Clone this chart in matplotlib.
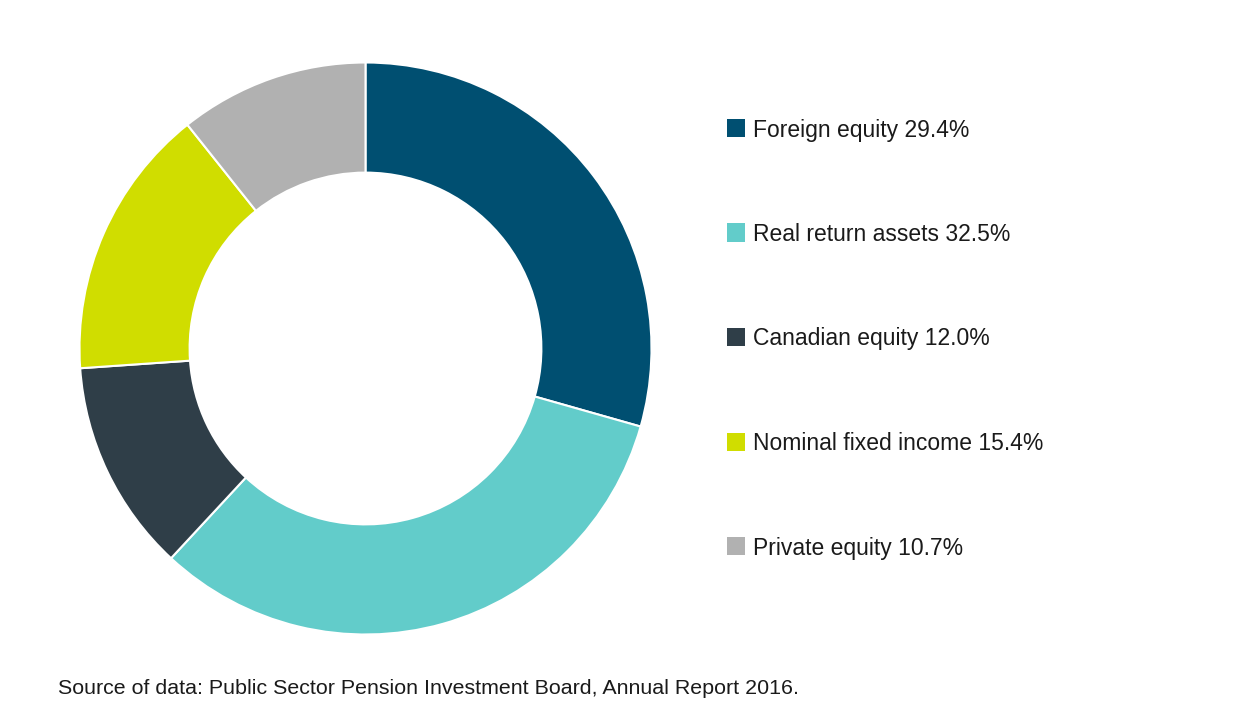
import matplotlib.pyplot as plt
from matplotlib.patches import Rectangle

plt.rcParams['font.family'] = ['Liberation Sans', 'DejaVu Sans']

# --- DATA ---
labels = ['Foreign equity', 'Real return assets', 'Canadian equity',
          'Nominal fixed income', 'Private equity']
shares = [29.4, 32.5, 12.0, 15.4, 10.7]
colors = ['#004F71', '#62CCCA', '#2F3E48', '#D0DD00', '#B1B1B1']
source = 'Source of data: Public Sector Pension Investment Board, Annual Report 2016.'

W, H = 1240, 708
fig = plt.figure(figsize=(W / 100, H / 100), dpi=100)

# donut, centre ~ (365.5, 348.5) px, outer radius ~286 px
cx, cy, r = 365.5, 348.5, 286
ax = fig.add_axes([(cx - r) / W, (H - cy - r) / H, 2 * r / W, 2 * r / H])
ax.pie(shares, colors=colors, startangle=90, counterclock=False, radius=1,
       wedgeprops=dict(width=0.385, edgecolor='white', linewidth=1.5))
ax.set_xlim(-1, 1)
ax.set_ylim(-1, 1)
ax.set_aspect('equal')
ax.axis('off')

# legend, drawn by hand
y0, dy = 128, 104.5
for i, (lab, val, col) in enumerate(zip(labels, shares, colors)):
    y = y0 + i * dy
    fig.patches.append(Rectangle((727 / W, (H - y - 9) / H), 18 / W, 18 / H,
                                 transform=fig.transFigure, facecolor=col,
                                 edgecolor='none'))
    fig.text(753 / W, (H - y - 2) / H, f'{lab} {val:.1f}%', fontsize=16.5,
             va='center', ha='left', color='#1a1a1a')

fig.text(58 / W, (H - 689) / H, source, fontsize=15.4, va='center',
         ha='left', color='#1a1a1a')

fig.savefig('out.png', dpi=100)
